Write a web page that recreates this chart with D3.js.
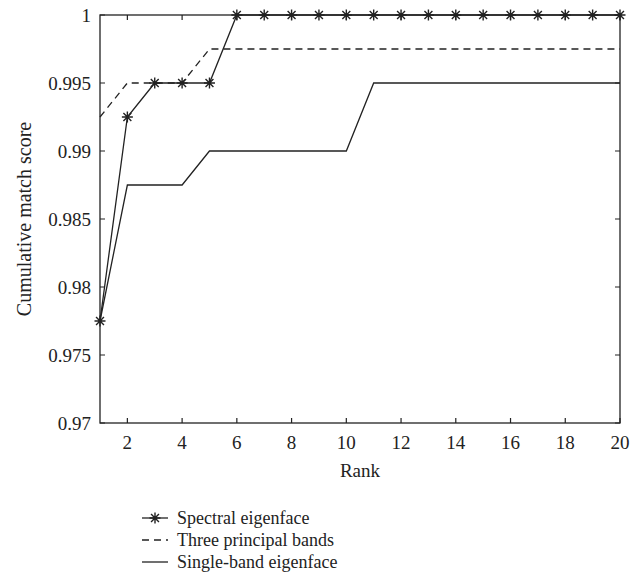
<!DOCTYPE html>
<html>
<head>
<meta charset="utf-8">
<script src="https://cdn.jsdelivr.net/npm/d3@7"></script>
<style>
  body { margin: 0; background: #fff; }
</style>
</head>
<body>
<script>
let ranks = d3.range(1, 21);
let spectral = [0.9775, 0.9925, 0.995, 0.995, 0.995, 1, 1, 1, 1, 1, 1, 1, 1, 1, 1, 1, 1, 1, 1, 1];
let threeBands = [0.9925, 0.995, 0.995, 0.995, 0.9975, 0.9975, 0.9975, 0.9975, 0.9975, 0.9975,
                  0.9975, 0.9975, 0.9975, 0.9975, 0.9975, 0.9975, 0.9975, 0.9975, 0.9975, 0.9975];
let singleBand = [0.9775, 0.9875, 0.9875, 0.9875, 0.99, 0.99, 0.99, 0.99, 0.99, 0.99,
                  0.995, 0.995, 0.995, 0.995, 0.995, 0.995, 0.995, 0.995, 0.995, 0.995];
let xTicks = [2, 4, 6, 8, 10, 12, 14, 16, 18, 20];
let yTicks = [0.97, 0.975, 0.98, 0.985, 0.99, 0.995, 1];
let seriesNames = ["Spectral eigenface", "Three principal bands", "Single-band eigenface"];

let width = 641, height = 585;
let plotLeft = 100, plotRight = 620, plotTop = 15, plotBottom = 423;
let serif = "'Liberation Serif', 'Times New Roman', Tinos, 'DejaVu Serif', serif";

let svg = d3.select("body").append("svg")
    .attr("width", width)
    .attr("height", height)
    .attr("font-family", serif);

let x = d3.scaleLinear().domain([1, 20]).range([plotLeft, plotRight]);
let y = d3.scaleLinear().domain([0.97, 1]).range([plotBottom, plotTop]);

// frame
svg.append("rect")
    .attr("x", plotLeft).attr("y", plotTop)
    .attr("width", plotRight - plotLeft).attr("height", plotBottom - plotTop)
    .attr("fill", "none").attr("stroke", "#222").attr("stroke-width", 1.3);

let tickLen = 5;
// inward ticks on all sides
svg.selectAll(".xtick").data(xTicks).join("path")
    .attr("class", "xtick")
    .attr("d", d => `M${x(d)},${plotBottom}v${-tickLen}M${x(d)},${plotTop}v${tickLen}`)
    .attr("stroke", "#222").attr("stroke-width", 1.2);
svg.selectAll(".ytick").data(yTicks).join("path")
    .attr("class", "ytick")
    .attr("d", d => `M${plotLeft},${y(d)}h${tickLen}M${plotRight},${y(d)}h${-tickLen}`)
    .attr("stroke", "#222").attr("stroke-width", 1.2);

svg.selectAll(".xlabel").data(xTicks).join("text")
    .attr("class", "xlabel")
    .attr("x", d => x(d))
    .attr("y", plotBottom + 26)
    .attr("text-anchor", "middle")
    .attr("font-size", 19)
    .attr("fill", "#222")
    .text(d => d);
svg.selectAll(".ylabel").data(yTicks).join("text")
    .attr("class", "ylabel")
    .attr("x", plotLeft - 9)
    .attr("y", d => y(d) + 7)
    .attr("text-anchor", "end")
    .attr("font-size", 19)
    .attr("fill", "#222")
    .text(d => d);

svg.append("text")
    .attr("x", (plotLeft + plotRight) / 2)
    .attr("y", 477)
    .attr("text-anchor", "middle")
    .attr("font-size", 19)
    .attr("fill", "#222")
    .text("Rank");
svg.append("text")
    .attr("transform", `translate(31,${(plotTop + plotBottom) / 2}) rotate(-90)`)
    .attr("text-anchor", "middle")
    .attr("font-size", 20)
    .attr("fill", "#222")
    .text("Cumulative match score");

let line = d3.line()
    .x((d, i) => x(ranks[i]))
    .y(d => y(d));

let series = [
  {values: singleBand, dash: null},
  {values: threeBands, dash: "7,5"},
  {values: spectral, dash: null}
];
svg.selectAll(".series").data(series).join("path")
    .attr("class", "series")
    .attr("d", d => line(d.values))
    .attr("fill", "none")
    .attr("stroke", "#222")
    .attr("stroke-width", 1.3)
    .attr("stroke-dasharray", d => d.dash);

function star(cx, cy, r) {
  let d = 0.72 * r;
  return `M${cx - r},${cy}h${2 * r}M${cx},${cy - r}v${2 * r}` +
         `M${cx - d},${cy - d}l${2 * d},${2 * d}M${cx - d},${cy + d}l${2 * d},${-2 * d}`;
}

svg.selectAll(".marker").data(spectral).join("path")
    .attr("class", "marker")
    .attr("d", (d, i) => star(x(ranks[i]), y(d), 5.5))
    .attr("stroke", "#222").attr("stroke-width", 1.4);

// legend
let legend = svg.append("g").attr("transform", "translate(142,518)");
let legendDash = [null, "7,5", null];
seriesNames.forEach((name, i) => {
  let ly = i * 22;
  legend.append("line")
      .attr("x1", 0).attr("x2", 26).attr("y1", ly).attr("y2", ly)
      .attr("stroke", "#222").attr("stroke-width", 1.3)
      .attr("stroke-dasharray", legendDash[i]);
  if (i === 0) {
    legend.append("path").attr("d", star(13, ly, 5.5))
        .attr("stroke", "#222").attr("stroke-width", 1.4);
  }
  legend.append("text")
      .attr("x", 35).attr("y", ly + 6)
      .attr("font-size", 18)
      .attr("fill", "#222")
      .text(name);
});
</script>
</body>
</html>
